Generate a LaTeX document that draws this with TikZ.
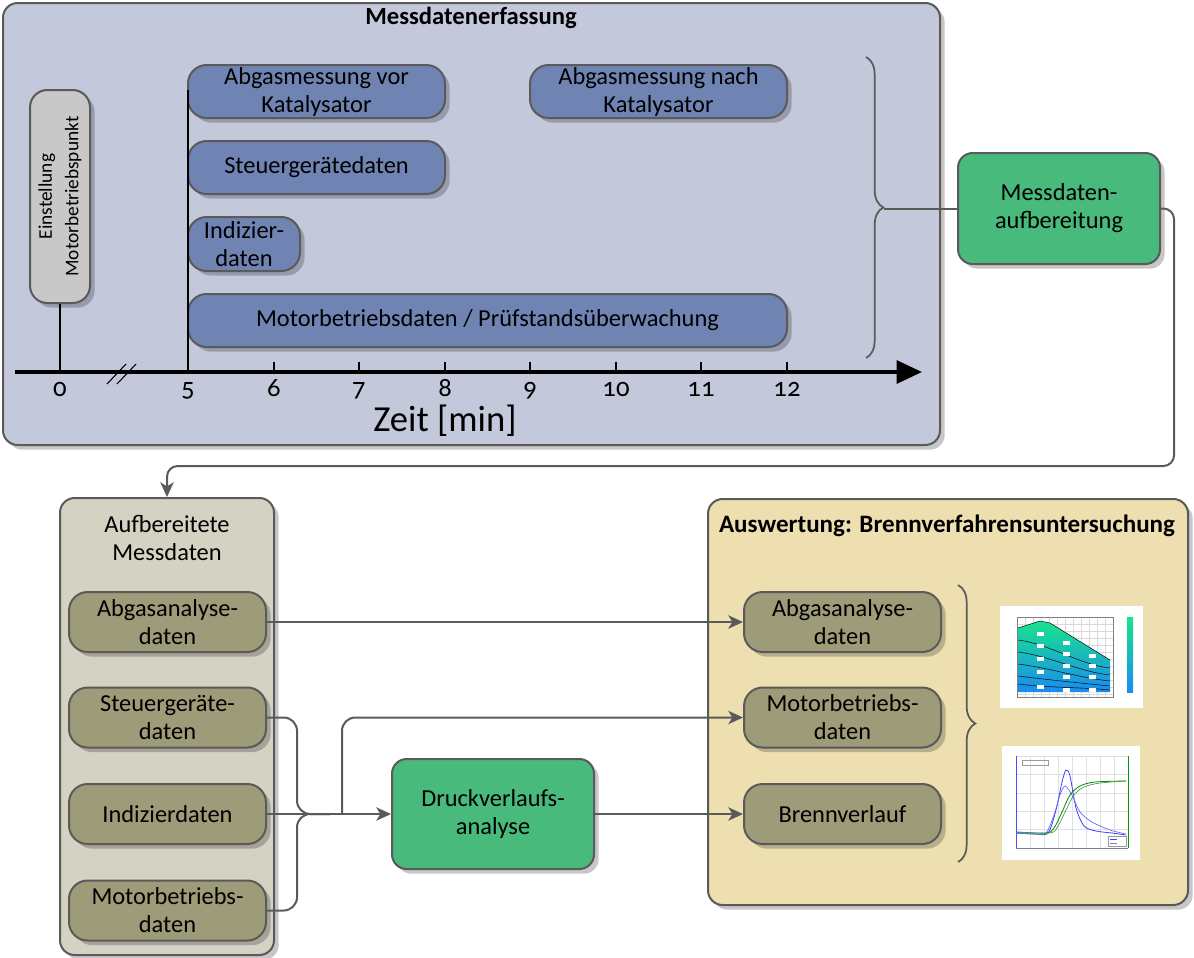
\documentclass[tikz,border=0pt]{standalone}
\usepackage{fontspec}
\setmainfont{Carlito}
\newfontfamily\onumfont[Numbers=OldStyle]{Carlito}
\usetikzlibrary{arrows.meta,shadows,decorations.pathreplacing,calc}
\definecolor{edge}{HTML}{5A5A5A}
\definecolor{frameblue}{HTML}{C3C8DA}
\definecolor{boxblue}{HTML}{7084B4}
\definecolor{boxgray}{HTML}{C8C8C8}
\definecolor{boxgreen}{HTML}{48BA7C}
\definecolor{boxolive}{HTML}{9E9B78}
\definecolor{frameolive}{HTML}{D4D2C3}
\definecolor{framewheat}{HTML}{EEDFB1}
\definecolor{mapgreen}{HTML}{19E38A}
\definecolor{mapblue}{HTML}{1A8CF0}
\newcommand{\pxu}{*0.75pt}
\begin{document}
\begin{tikzpicture}[x=0.75pt,y=-0.75pt,
  every node/.style={font=\fontsize{18.3}{21}\selectfont, align=center, inner sep=0pt},
  dshadow/.style={drop shadow={shadow xshift=3.5pt,shadow yshift=-3.5pt,opacity=0.22,fill=black}},
  frame/.style={draw=edge, line width=1.5pt, rounded corners=11pt, dshadow},
  rbox/.style={draw=edge, line width=1.5pt, rounded corners=14pt, dshadow},
  gbox/.style={draw=edge, line width=1.5pt, rounded corners=11pt, dshadow, fill=boxgreen},
  conn/.style={draw=edge, line width=1.5pt},
  arr/.style={-{Stealth[length=11pt,width=10pt,inset=3pt]}},
  ticklab/.style={font=\onumfont\fontsize{20}{22}\selectfont},
]
\useasboundingbox (0,0) rectangle (1194,957);

% ---------- top frame ----------
\node[frame, fill=frameblue, minimum width=937\pxu, minimum height=442\pxu] (mef) at (471.5,224) {};
\node[font=\bfseries\fontsize{18.5}{21}\selectfont] (mefT) at (471,18) {Messdatenerfassung};

\node[rbox, fill=boxgray, rounded corners=13pt, minimum width=60\pxu, minimum height=213\pxu] (emp) at (60,196.5) {};
\node[rotate=90, font=\fontsize{14.5}{20}\selectfont] (empT) at (emp.center) {Einstellung\\Motorbetriebspunkt};

\node[rbox, fill=boxblue, minimum width=257\pxu, minimum height=53\pxu] (avk) at (316.5,91.5) {Abgasmessung vor\\Katalysator};
\node[rbox, fill=boxblue, minimum width=257\pxu, minimum height=53\pxu] (ank) at (658.5,91.5) {Abgasmessung nach\\Katalysator};
\node[rbox, fill=boxblue, minimum width=257\pxu, minimum height=53\pxu] (sgd) at (316.5,167.5) {Steuergerätedaten};
\node[rbox, fill=boxblue, minimum width=112\pxu, minimum height=54\pxu] (idd) at (244,244) {Indizier-\\daten};
\node[rbox, fill=boxblue, minimum width=599\pxu, minimum height=53\pxu] (mbd) at (487.5,320.5) {Motorbetriebsdaten / Prüfstandsüberwachung};

% time axis
\coordinate (ax0) at (15,372);
\coordinate (ax1) at (922,372);
\draw[line width=3pt, -{Triangle[length=19pt,width=17pt]}] (ax0) -- (ax1);
\draw[line width=1.5pt] (emp.south) -- (60,372);
\draw[line width=1.5pt] (188,90) -- (188,372);
\foreach \x in {274,359,445,530,616,701,787} \draw[line width=1.5pt] (\x,362) -- (\x,372);
\draw[line width=0.8pt] (107,384) -- (126,364);
\draw[line width=0.8pt] (117,384) -- (136,364);
\foreach \x/\l in {60/0,188/5,274/6,359/7,445/8,530/9,616/10,701/11,787/12}
  \node[ticklab, anchor=base] at (\x,396) {\l};
\node[font=\fontsize{27.5}{30}\selectfont] (zeit) at (445,421) {Zeit [min]};

% brace and Messdatenaufbereitung
\draw[edge, line width=1.3pt, decorate, decoration={brace, amplitude=13pt}] (866,57) -- (866,358);
\coordinate (bt) at (884,208.5);
\node[gbox, minimum width=202\pxu, minimum height=111\pxu] (mda) at (1059,208.5) {Messdaten-\\aufbereitung};
\draw[conn] (bt) -- (mda.west);

% ---------- Aufbereitete Messdaten ----------
\node[frame, fill=frameolive, minimum width=214\pxu, minimum height=457\pxu] (amd) at (167,726.5) {};
\node (amdT) at (167,538) {Aufbereitete\\Messdaten};
\node[rbox, fill=boxolive, minimum width=197\pxu, minimum height=60\pxu] (ab1) at (167.5,622) {Abgasanalyse-\\daten};
\node[rbox, fill=boxolive, minimum width=197\pxu, minimum height=60\pxu] (sg1) at (167.5,717.5) {Steuergeräte-\\daten};
\node[rbox, fill=boxolive, minimum width=197\pxu, minimum height=60\pxu] (ind) at (167.5,814) {Indizierdaten};
\node[rbox, fill=boxolive, minimum width=197\pxu, minimum height=60\pxu] (mb1) at (167.5,910.5) {Motorbetriebs-\\daten};

\coordinate (r1) at (1174,466);
\draw[conn, arr, rounded corners=8pt] (mda.east) -| (r1) -| (amd.north);

% ---------- Druckverlaufsanalyse ----------
\node[gbox, minimum width=202\pxu, minimum height=110\pxu] (dva) at (493,814) {Druckverlaufs-\\analyse};

% ---------- Auswertung ----------
\node[frame, fill=framewheat, minimum width=480\pxu, minimum height=406\pxu] (awb) at (948,702) {};
\node[font=\bfseries\fontsize{18.8}{21}\selectfont] (awbT) at (947,526) {Auswertung: Brennverfahrensuntersuchung};
\node[rbox, fill=boxolive, minimum width=197\pxu, minimum height=60\pxu] (ab2) at (842.5,622) {Abgasanalyse-\\daten};
\node[rbox, fill=boxolive, minimum width=197\pxu, minimum height=60\pxu] (mb2) at (842.5,717.5) {Motorbetriebs-\\daten};
\node[rbox, fill=boxolive, minimum width=197\pxu, minimum height=60\pxu] (bv) at (842.5,814) {Brennverlauf};
\draw[edge, line width=1.3pt, decorate, decoration={brace, amplitude=13pt}] (958,585) -- (958,862);

% connectors
\draw[conn, arr] (ab1.east) -- (ab2.west);
\draw[conn, rounded corners=10pt] (sg1.east) -- (297,717.5) -- (297,814) -- (330,814);
\draw[conn, rounded corners=10pt] (mb1.east) -- (297,910.5) -- (297,814) -- (330,814);
\draw[conn, arr] (ind.east) -- (dva.west);
\coordinate (br) at (342,814);
\draw[conn, arr, rounded corners=10pt] (br) -- (342,717.5) -- (mb2.west);
\draw[conn, arr] (dva.east) -- (bv.west);

% ---------- thumbnail 1: map ----------
\fill[white] (1000,606) rectangle (1143,708);
\foreach \x in {1017,1025,...,1113} \draw[black!15, line width=0.3pt] (\x,617) -- (\x,697);
\foreach \y in {617,624,...,697} \draw[black!15, line width=0.3pt] (1017,\y) -- (1113,\y);
\shade[top color=mapgreen, bottom color=mapblue] (1018,628) -- (1040,621) -- (1050,623) -- (1110,660) -- (1110,692) -- (1018,692) -- cycle;
\draw[black, line width=0.35pt] (1018,628) -- (1040,621) -- (1050,623) -- (1110,660);
\foreach \a/\b in {640/668,652/675,664/681,676/686,684/690}
  \draw[black, line width=0.35pt] (1018,\a) .. controls (1050,\a+4) and (1080,\b-3) .. (1110,\b);
\foreach \p in {(1040,634),(1040,646),(1040,659),(1040,672),(1040,687),(1066,643),(1066,654),(1066,666),(1066,677),(1066,690),(1092,656),(1092,666),(1092,677),(1092,690)}
  \fill[white] \p ++(-3.5,-1.8) rectangle ++(7,3.6);
\draw[black!50, line width=0.4pt] (1017,617) rectangle (1113,697);
\shade[top color=mapgreen, bottom color=mapblue] (1127,617) rectangle (1133,692);

% ---------- thumbnail 2: burn rate ----------
\fill[white] (1002,746) rectangle (1140,860);
\foreach \x in {1016,1030,...,1128} \draw[black!12, line width=0.3pt] (\x,756) -- (\x,848);
\foreach \y in {756,774.4,...,848} \draw[black!12, line width=0.3pt] (1016,\y) -- (1128,\y);
\draw[blue!70, line width=0.4pt] (1016,756) -- (1016,848);
\draw[green!60!black, line width=0.4pt] (1128,756) -- (1128,848);
\draw[black!50, line width=0.4pt] (1016,848) -- (1128,848);
\draw[black!40, line width=0.3pt] (1022,760) rectangle (1048,765);
\draw[blue!75, line width=0.6pt] plot[smooth] coordinates {(1016,833) (1035,834) (1048,833) (1056,810) (1062,782) (1066,770) (1070,776) (1076,808) (1084,826) (1096,831) (1112,833) (1126,835)};
\draw[blue!60, line width=0.5pt] plot[smooth] coordinates {(1016,833) (1035,834) (1046,833) (1054,815) (1060,795) (1065,786) (1072,795) (1080,812) (1092,822) (1110,830) (1126,834)};
\draw[green!55!black, line width=0.6pt] plot[smooth] coordinates {(1016,832) (1046,833) (1054,828) (1062,812) (1070,795) (1080,786) (1095,782) (1126,781)};
\draw[green!45!black!70, line width=0.5pt] plot[smooth] coordinates {(1016,832) (1050,833) (1058,826) (1066,810) (1074,795) (1084,787) (1100,783) (1126,781)};
\draw[black!40, line width=0.3pt, fill=white] (1108,836) rectangle (1126,846);
\draw[blue!75, line width=0.4pt] (1110,839) -- (1117,839);
\draw[blue!55, line width=0.4pt] (1110,843) -- (1117,843);
\end{tikzpicture}
\end{document}
